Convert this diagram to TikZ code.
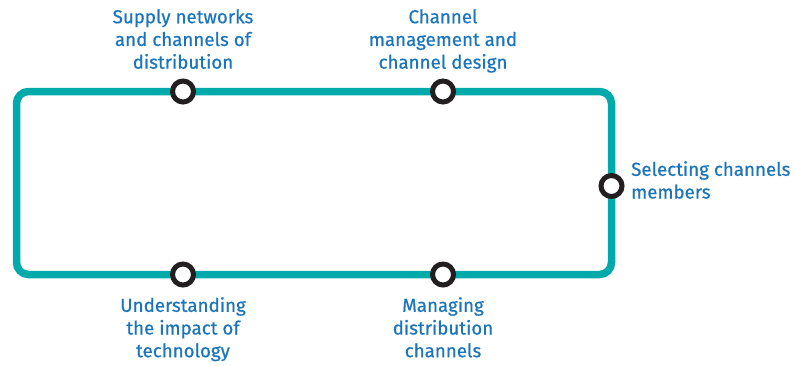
\documentclass[tikz,border=0pt]{standalone}
\usepackage{fontspec}
\setmainfont{Fira Sans}
\newfontfamily\lblfont{Fira Sans}[FakeBold=0.6]
\usetikzlibrary{backgrounds,positioning}
\definecolor{trackteal}{RGB}{0,170,170}
\definecolor{labelblue}{RGB}{27,117,188}
\definecolor{stopdark}{RGB}{35,31,32}
\tikzset{
  track/.style = {line width=7.5bp, trackteal, rounded corners=12bp},
  stop/.style  = {circle, draw=stopdark, line width=5bp, fill=white,
                  minimum size=21bp, inner sep=0pt},
  lbl/.style   = {text=labelblue, font=\lblfont\fontsize{18.8}{22.8}\selectfont,
                  align=center, inner sep=0pt},
}

\begin{document}
\begin{tikzpicture}[x=1bp,y=-1bp]
  \useasboundingbox (0,0) rectangle (795,365);
  \node[stop] (supply) at (183,91.5) {};
  \node[stop] (design) at (443,91.5) {};
  \node[stop] (select) at (611.5,186) {};
  \node[stop] (impact) at (183,274.5) {};
  \node[stop] (manage) at (443,274.5) {};
  \coordinate (tl) at (16.5,91.5);
  \coordinate (tr) at (611.5,91.5);
  \coordinate (br) at (611.5,274.5);
  \coordinate (bl) at (16.5,274.5);
  \begin{scope}[on background layer]
    \draw[track] (tl) -- (supply.center) -- (design.center) -- (tr)
      -- (select.center) -- (br) -- (manage.center) -- (impact.center)
      -- (bl) -- cycle;
  \end{scope}
  % labels
  \node[lbl, anchor=north] (supplytxt) at (183,9) {Supply networks\\and channels of\\distribution};
  \node[lbl, anchor=north] (designtxt) at (443,9) {Channel\\management and\\channel design};
  \node[lbl, anchor=north west, align=left] (selecttxt) at (631,161) {Selecting channels\\members};
  \node[lbl, anchor=north] (impacttxt) at (183,297) {Understanding\\the impact of\\technology};
  \node[lbl, anchor=north] (managetxt) at (443,297) {Managing\\distribution\\channels};
\end{tikzpicture}
\end{document}
